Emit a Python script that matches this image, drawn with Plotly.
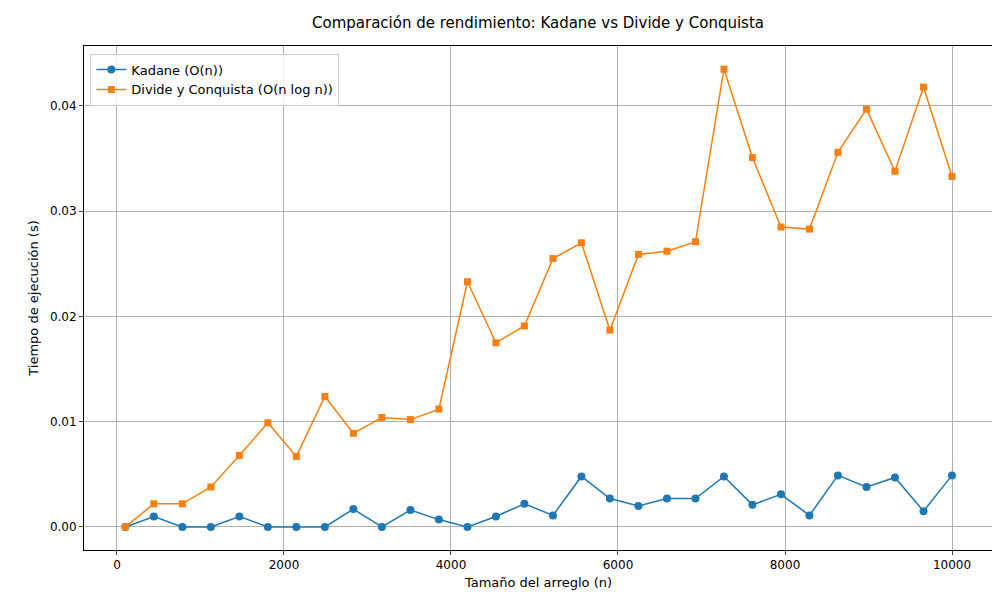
import plotly.graph_objects as go

sizes = [100, 441, 783, 1124, 1466, 1807, 2148, 2490, 2831, 3172, 3514, 3855, 4197, 4538, 4879,
         5221, 5562, 5903, 6245, 6586, 6928, 7269, 7610, 7952, 8293, 8634, 8976, 9317, 9659, 10000]
kadane = [0, 0.001, 0, 0, 0.001, 0, 0, 0, 0.0017, 0, 0.0016, 0.0007, 0, 0.001, 0.0022, 0.0011,
          0.0048, 0.0027, 0.002, 0.0027, 0.0027, 0.0048, 0.0021, 0.0031, 0.0011, 0.0049, 0.0038,
          0.0047, 0.0015, 0.0049]
divide = [0, 0.0022, 0.0022, 0.0038, 0.0068, 0.0099, 0.0067, 0.0124, 0.0089, 0.0104, 0.0102,
          0.0112, 0.0233, 0.0175, 0.0191, 0.0255, 0.0270, 0.0187, 0.0259, 0.0262, 0.0271, 0.0435,
          0.0351, 0.0285, 0.0283, 0.0356, 0.0397, 0.0338, 0.0418, 0.0333]
xticks = [0, 2000, 4000, 6000, 8000, 10000]
xtick_labels = ["0", "2000", "4000", "6000", "8000", "10000"]
yticks = [0, 0.01, 0.02, 0.03, 0.04]

fig = go.Figure()
fig.add_trace(go.Scatter(x=sizes, y=kadane, mode="lines+markers", name="Kadane (O(n))",
                         line=dict(color="#1f77b4", width=1.5), marker=dict(symbol="circle", size=8)))
fig.add_trace(go.Scatter(x=sizes, y=divide, mode="lines+markers", name="Divide y Conquista (O(n log n))",
                         line=dict(color="#ff7f0e", width=1.5), marker=dict(symbol="square", size=7)))
axis = dict(showgrid=True, gridcolor="#b0b0b0", gridwidth=1, showline=True, mirror=True,
            linecolor="black", linewidth=1, ticks="outside", ticklen=4, zeroline=False,
            automargin=False, tickfont=dict(size=12, color="black"))
fig.update_layout(
    width=1000, height=600, paper_bgcolor="white", plot_bgcolor="white",
    font=dict(family="DejaVu Sans", color="black"),
    margin=dict(l=76, r=15, t=38, b=58),
    title=dict(text="Comparación de rendimiento: Kadane vs Divide y Conquista", x=0.53, xanchor="center",
               y=0.985, yanchor="top", font=dict(size=15)),
    xaxis=dict(axis, range=[-395, 10491], tickvals=xticks, ticktext=xtick_labels,
               title=dict(text="Tamaño del arreglo (n)", font=dict(size=13), standoff=6)),
    yaxis=dict(axis, range=[-0.00219, 0.0457], tickvals=yticks,
               tickformat=".2f", title=dict(text="Tiempo de ejecución (s)", font=dict(size=13), standoff=8)),
    legend=dict(x=0.007, y=0.985, xanchor="left", yanchor="top", bgcolor="rgba(255,255,255,0.8)",
                bordercolor="#cccccc", borderwidth=1, font=dict(size=13)),
)
fig.write_html("out.html")
